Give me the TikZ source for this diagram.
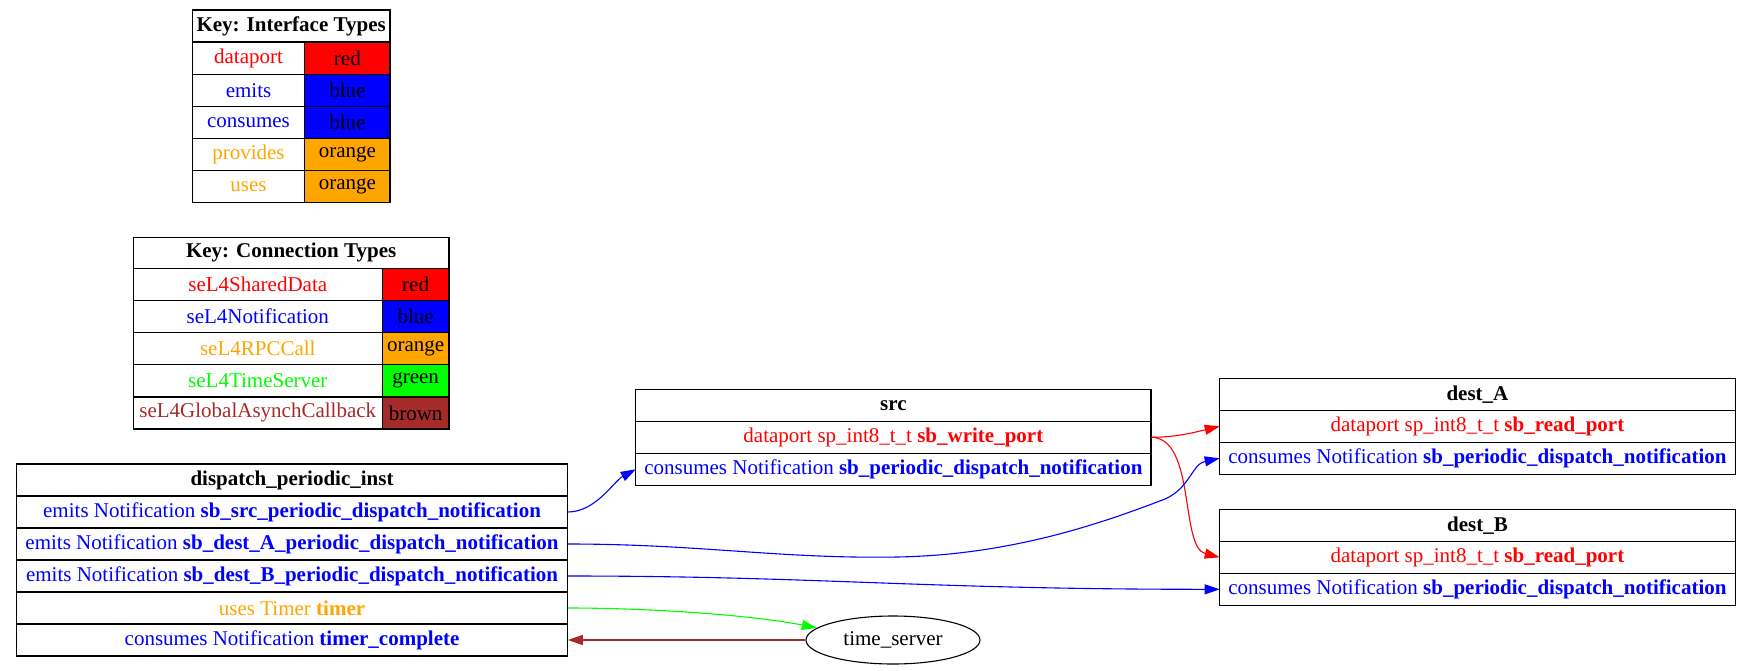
\documentclass[tikz,border=0pt]{standalone}
\usepackage{fontspec}
\setmainfont{Liberation Serif}
\usepackage{xcolor}
\definecolor{gvred}{HTML}{FF0000}
\definecolor{gvblue}{HTML}{0000FF}
\definecolor{gvorange}{HTML}{FFA500}
\definecolor{gvgreen}{HTML}{00FF00}
\definecolor{gvbrown}{HTML}{A52A2A}
\usepackage{tikz}
\usetikzlibrary{positioning,arrows.meta,shapes.geometric}
\newcommand{\gvfont}{\fontsize{21}{25}\selectfont}
\tikzset{
  gvcell/.style ={draw=black, line width=1.3pt, inner sep=0pt, outer sep=0pt, anchor=north west,
                  minimum height=32pt, font=\gvfont, align=center},
  gvhead/.style ={gvcell, font=\gvfont\bfseries},
  gvedge/.style ={line width=1.1pt, -{Triangle[length=15pt,width=10pt]}},
  gvproc/.style ={ellipse, draw=black, line width=1.1pt, inner sep=0pt, minimum width=174pt,
                  minimum height=48pt, font=\gvfont},
}

\begin{document}
\begin{tikzpicture}[x=1pt, y=-1pt]
  \useasboundingbox (0,0) rectangle (1751,670);
  % key: interface types
  \node[gvhead, minimum width=197.7pt] (keyif) at (192.3,10) {Key: Interface Types};
  \foreach \lbl/\col/\txt [count=\i from 0] in {dataport/gvred/red, emits/gvblue/blue,
      consumes/gvblue/blue, provides/gvorange/orange, uses/gvorange/orange} {
    \node[gvcell, text=\col, minimum width=112.4pt] (keyif-l\i) at (192.3,42.3+32.08*\i) {\lbl};
    \node[gvcell, fill=\col, minimum width=85.3pt] (keyif-c\i) at (304.7,42.3+32.08*\i) {\txt};
  }
  % key: connection types
  \node[gvhead, minimum width=315.7pt, minimum height=31pt] (keycn) at (133.3,237.3) {Key: Connection Types};
  \foreach \lbl/\col/\txt [count=\i from 0] in {seL4SharedData/gvred/red, seL4Notification/gvblue/blue,
      seL4RPCCall/gvorange/orange, seL4TimeServer/gvgreen/green, seL4GlobalAsynchCallback/gvbrown/brown} {
    \node[gvcell, text=\col, minimum width=249pt] (keycn-l\i) at (133.3,268.3+32.14*\i) {\lbl};
    \node[gvcell, fill=\col, minimum width=66.7pt] (keycn-c\i) at (382.3,268.3+32.14*\i) {\txt};
  }
  % dispatch_periodic_inst
  \node[gvhead, minimum width=551.5pt] (disp) at (16.3,464) {dispatch\_periodic\_inst};
  \node[gvcell, minimum width=551.5pt, text=gvblue] (disp-src) at (16.3,496)
    {emits Notification \textbf{sb\_src\_periodic\_dispatch\_notification}};
  \node[gvcell, minimum width=551.5pt, text=gvblue] (disp-destA) at (16.3,528)
    {emits Notification \textbf{sb\_dest\_A\_periodic\_dispatch\_notification}};
  \node[gvcell, minimum width=551.5pt, text=gvblue] (disp-destB) at (16.3,560)
    {emits Notification \textbf{sb\_dest\_B\_periodic\_dispatch\_notification}};
  \node[gvcell, minimum width=551.5pt, text=gvorange] (disp-timer) at (16.3,592)
    {uses Timer \textbf{timer}};
  \node[gvcell, minimum width=551.5pt, text=gvblue] (disp-tc) at (16.3,624)
    {consumes Notification \textbf{timer\_complete}};
  % src
  \node[gvhead, minimum width=515.3pt] (src) at (635.7,389.3) {src};
  \node[gvcell, minimum width=515.3pt, text=gvred] (src-write) at (635.7,421.3)
    {dataport sp\_int8\_t\_t \textbf{sb\_write\_port}};
  \node[gvcell, minimum width=515.3pt, text=gvblue] (src-notif) at (635.7,453.3)
    {consumes Notification \textbf{sb\_periodic\_dispatch\_notification}};
  % dest_A
  \node[gvhead, minimum width=515.5pt] (destA) at (1219.7,378.3) {dest\_A};
  \node[gvcell, minimum width=515.5pt, text=gvred] (destA-read) at (1219.7,410.3)
    {dataport sp\_int8\_t\_t \textbf{sb\_read\_port}};
  \node[gvcell, minimum width=515.5pt, text=gvblue] (destA-notif) at (1219.7,442.3)
    {consumes Notification \textbf{sb\_periodic\_dispatch\_notification}};
  % dest_B
  \node[gvhead, minimum width=515.5pt] (destB) at (1219.7,509.3) {dest\_B};
  \node[gvcell, minimum width=515.5pt, text=gvred] (destB-read) at (1219.7,541.3)
    {dataport sp\_int8\_t\_t \textbf{sb\_read\_port}};
  \node[gvcell, minimum width=515.5pt, text=gvblue] (destB-notif) at (1219.7,573.3)
    {consumes Notification \textbf{sb\_periodic\_dispatch\_notification}};
  % time_server
  \node[gvproc] (timesrv) at (893,640) {time\_server};
  % connections
  \draw[gvedge, gvblue] (disp-src.east) .. controls +(28,0) and +(-22,12) .. (src-notif.west);
  \draw[gvedge, gvred] (src-write.east) .. controls +(25,0) and +(-25,6) .. (destA-read.west);
  \draw[gvedge, gvred] (src-write.east) .. controls +(45,0) and +(-40,-10) .. (destB-read.west);
  \draw[gvedge, gvblue] (disp-destA.east) .. controls (700,544) and (780,559) .. (897,557)
    .. controls (1010,555) and (1100,524) .. (1165,499)
    .. controls (1190,488) and (1192,464) .. (destA-notif.west);
  \draw[gvedge, gvblue] (disp-destB.east) .. controls +(250,0) and +(-300,0) .. (destB-notif.west);
  \draw[gvedge, gvgreen] (disp-timer.east) .. controls +(90,0) and +(-60,-12) .. (timesrv.171);
  \draw[gvedge, gvbrown] (timesrv.west) -- (disp-tc.east);
\end{tikzpicture}
\end{document}
